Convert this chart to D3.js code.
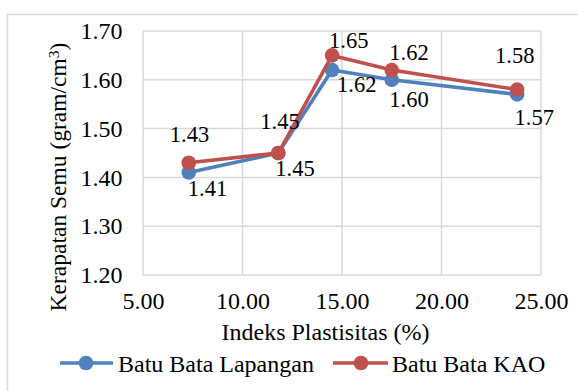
<!DOCTYPE html>
<html>
<head>
<meta charset="utf-8">
<script src="https://cdn.jsdelivr.net/npm/d3@7"></script>
<style>
  html, body { margin: 0; padding: 0; background: #fff; }
  svg { display: block; }
</style>
</head>
<body>
<svg id="chart" width="578" height="391" font-family="Liberation Serif"></svg>
<script>
// Indeks plastisitas (%) for each sample
const plastisitas = [7.3, 11.8, 14.5, 17.5, 23.8];
// Kerapatan semu (gram/cm3) per brick type
const lapangan = [1.41, 1.45, 1.62, 1.60, 1.57];
const kao = [1.43, 1.45, 1.65, 1.62, 1.58];
const seriesNames = ["Batu Bata Lapangan", "Batu Bata KAO"];
const xTicks = [5, 10, 15, 20, 25];
const yTicks = [1.2, 1.3, 1.4, 1.5, 1.6, 1.7];

const colors = ["#4f81bd", "#c0504d"];
const serif = "Liberation Serif";
// value-label nudges [dx, dy] from each point (text starts at dx)
const labelNudge = [
  [[-1, 23], [-3, 23], [5, 22], [-2.5, 27], [-2.5, 30.5]],
  [[-19, -21], [-18, -24], [-3, -7], [-2.5, -10], [-22, -27]]
];

const svg = d3.select("#chart");
const W = 578, H = 391;
const plot = { left: 143, right: 541, top: 31, bottom: 275 };

// outer chart frame
svg.append("rect")
  .attr("x", 7.5).attr("y", 14.5)
  .attr("width", W + 10).attr("height", H + 10)
  .attr("fill", "none").attr("stroke", "#d9d9d9").attr("stroke-width", 1.5);

const x = d3.scaleLinear().domain([5, 25]).range([plot.left, plot.right]);
const y = d3.scaleLinear().domain([1.2, 1.7]).range([plot.bottom, plot.top]);

// gridlines
const grid = svg.append("g").attr("stroke", "#d9d9d9").attr("stroke-width", 1.5);
grid.selectAll("line.v").data(xTicks).join("line")
  .attr("x1", d => x(d)).attr("x2", d => x(d))
  .attr("y1", plot.top).attr("y2", plot.bottom);
grid.selectAll("line.h").data(yTicks).join("line")
  .attr("x1", plot.left).attr("x2", plot.right)
  .attr("y1", d => y(d)).attr("y2", d => y(d));

// axes (labels only, lines drawn by the grid)
const yAxis = svg.append("g")
  .attr("transform", `translate(${plot.left - 20.5},0)`)
  .call(d3.axisLeft(y).tickValues(yTicks).tickFormat(d3.format(".2f")).tickSize(0).tickPadding(0));
const xAxis = svg.append("g")
  .attr("transform", `translate(0,${plot.bottom + 17})`)
  .call(d3.axisBottom(x).tickValues(xTicks).tickFormat(d3.format(".2f")).tickSize(0).tickPadding(0));
[yAxis, xAxis].forEach(a => {
  a.attr("font-family", serif).attr("font-size", 24);
  a.select(".domain").remove();
  a.selectAll("text").attr("fill", "#000");
});
xAxis.selectAll("text").attr("dy", "0.71em");

// axis titles
svg.append("text")
  .attr("x", 325.5).attr("y", 340)
  .attr("text-anchor", "middle")
  .attr("font-size", 24)
  .text("Indeks Plastisitas (%)");

const yTitle = svg.append("text")
  .attr("transform", "translate(66,177) rotate(-90)")
  .attr("text-anchor", "middle")
  .attr("font-size", 23.5);
yTitle.append("tspan").text("Kerapatan Semu (gram/cm");
yTitle.append("tspan").attr("dy", "-0.45em").attr("font-size", 15.5).text("3");
yTitle.append("tspan").attr("dy", "0.3em").text(")");

// series lines, markers and value labels
const allSeries = [lapangan, kao];
allSeries.forEach((vals, si) => {
  const pts = plastisitas.map((p, i) => [p, vals[i]]);
  const g = svg.append("g");
  g.append("path")
    .datum(pts)
    .attr("fill", "none")
    .attr("stroke", colors[si])
    .attr("stroke-width", 3.6)
    .attr("stroke-linejoin", "round")
    .attr("d", d3.line().x(d => x(d[0])).y(d => y(d[1])));
  g.selectAll("circle").data(pts).join("circle")
    .attr("cx", d => x(d[0])).attr("cy", d => y(d[1]))
    .attr("r", 7.3)
    .attr("fill", colors[si]);
  g.selectAll("text").data(pts).join("text")
    .attr("x", (d, i) => x(d[0]) + labelNudge[si][i][0])
    .attr("y", (d, i) => y(d[1]) + labelNudge[si][i][1])
    .attr("font-size", 22.5)
    .attr("fill", "#000")
    .text(d => d[1].toFixed(2));
});

// legend
const legend = [
  { name: seriesNames[0], color: colors[0], x1: 60, x2: 113, cx: 86, tx: 118 },
  { name: seriesNames[1], color: colors[1], x1: 333, x2: 388, cx: 361, tx: 392 }
];
const lg = svg.append("g");
legend.forEach(l => {
  lg.append("line")
    .attr("x1", l.x1).attr("x2", l.x2).attr("y1", 363).attr("y2", 363)
    .attr("stroke", l.color).attr("stroke-width", 3.6);
  lg.append("circle").attr("cx", l.cx).attr("cy", 363).attr("r", 7.3).attr("fill", l.color);
  lg.append("text").attr("x", l.tx).attr("y", 372)
    .attr("font-size", 24).attr("fill", "#000").text(l.name);
});

// serif face on every label
svg.selectAll("text").attr("font-family", serif);
</script>
</body>
</html>
